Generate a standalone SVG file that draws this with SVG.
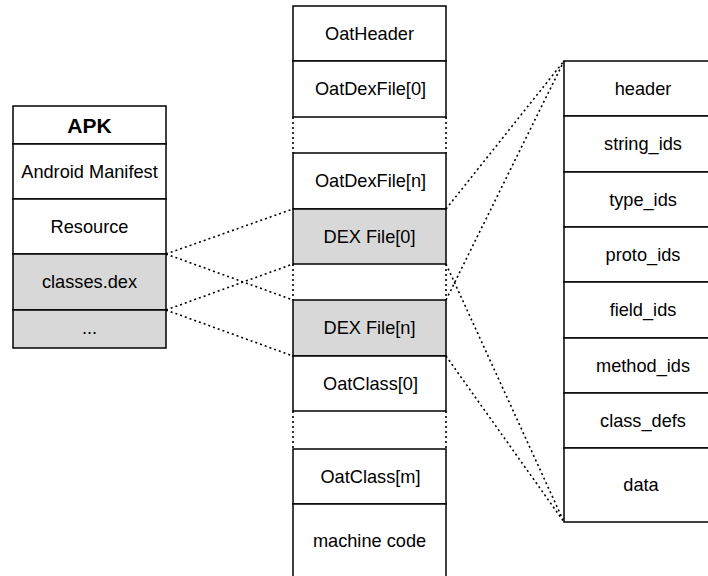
<svg xmlns="http://www.w3.org/2000/svg" width="708" height="576" viewBox="0 0 708 576">
<style>
.b{fill:#fff;stroke:#000;stroke-width:1.5}
.g{fill:#d8d8d8;stroke:#000;stroke-width:1.5}
.t{font-family:"Liberation Sans",Arial,sans-serif;font-size:18.2px;fill:#000;text-anchor:middle}
.h{font-family:"Liberation Sans",Arial,sans-serif;font-size:21px;font-weight:bold;fill:#000;text-anchor:middle}
.d{fill:none;stroke:#000;stroke-width:1.6;stroke-dasharray:2 3}
</style>
<rect width="708" height="576" fill="#fff"/>
<g id="apk">
<rect class="b" x="13" y="106" width="153" height="38"/>
<text class="h" x="89.5" y="133">APK</text>
<rect class="b" x="13" y="144" width="153" height="55"/>
<text class="t" x="89.5" y="178">Android Manifest</text>
<rect class="b" x="13" y="199" width="153" height="55"/>
<text class="t" x="89.5" y="233">Resource</text>
<rect class="g" x="13" y="254" width="153" height="56"/>
<text class="t" x="89.5" y="288">classes.dex</text>
<rect class="g" x="13" y="310" width="153" height="38"/>
<text class="t" x="89.5" y="334">...</text>
</g>
<g id="oat">
<rect class="b" x="293" y="6" width="153" height="55"/>
<text class="t" x="369.5" y="40">OatHeader</text>
<rect class="b" x="293" y="61" width="153" height="56"/>
<text class="t" x="370.5" y="95">OatDexFile[0]</text>
<rect class="b" x="293" y="153" width="153" height="56"/>
<text class="t" x="370.5" y="187">OatDexFile[n]</text>
<rect class="g" x="293" y="209" width="153" height="55"/>
<text class="t" x="369.5" y="243">DEX File[0]</text>
<rect class="g" x="293" y="300" width="153" height="56"/>
<text class="t" x="369.5" y="334">DEX File[n]</text>
<rect class="b" x="293" y="356" width="153" height="55"/>
<text class="t" x="370.5" y="390">OatClass[0]</text>
<rect class="b" x="293" y="449" width="153" height="55"/>
<text class="t" x="370.5" y="483">OatClass[m]</text>
<rect class="b" x="293" y="504" width="153" height="80"/>
<text class="t" x="369.5" y="547">machine code</text>
</g>
<g id="dex">
<rect class="b" x="564" y="61" width="160" height="55"/>
<text class="t" x="643" y="95">header</text>
<rect class="b" x="564" y="116" width="160" height="56"/>
<text class="t" x="643" y="150">string_ids</text>
<rect class="b" x="564" y="172" width="160" height="55"/>
<text class="t" x="643" y="206">type_ids</text>
<rect class="b" x="564" y="227" width="160" height="55"/>
<text class="t" x="643" y="261">proto_ids</text>
<rect class="b" x="564" y="282" width="160" height="56"/>
<text class="t" x="643" y="316">field_ids</text>
<rect class="b" x="564" y="338" width="160" height="55"/>
<text class="t" x="643" y="372">method_ids</text>
<rect class="b" x="564" y="393" width="160" height="55"/>
<text class="t" x="643" y="427">class_defs</text>
<rect class="b" x="564" y="448" width="160" height="74"/>
<text class="t" x="641" y="491">data</text>
</g>
<g id="connectors">
<path class="d" d="M293 117V153M446 117V153M293 264V300M446 264V300M293 411V449M446 411V449"/>
<path class="d" d="M166 254L293 209M166 254L293 300M166 310L293 264M166 310L293 356"/>
<path class="d" d="M446 209L564 61M446 300L564 61M446 264L564 522M446 356L564 522"/>
</g>
</svg>
